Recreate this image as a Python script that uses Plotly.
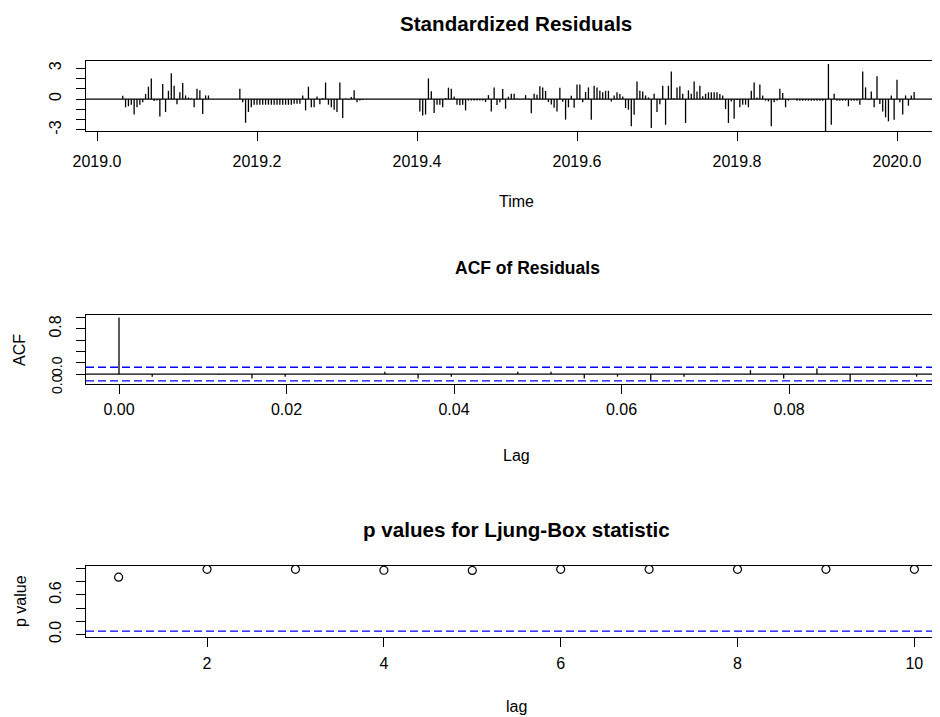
import plotly.graph_objects as go

# page offset of the figure inside the browser (default body margin)
OFF = 8
W, H = 940 - OFF, 717 - OFF

# ---------------- data ----------------
resid_freq = 280            # observations per year on the time axis
resid_year0 = 2019
seg_a_start = 9             # index (k) of first obs: t = 2019 + k/280
seg_a = [0.32, -0.8, -0.7, -0.55, -1.5, -0.8, -0.55, -0.3, 0.5, 1.2, 2.0, -0.2, -0.15, -1.7, 1.45,
         -1.25, 0.8, 2.5, 1.3, -0.5, 0.65, 1.55, 0.35, 0.15, 0.05, -0.8, 1.0, 0.85, -1.45, 0.35, 0.35]
seg_b_start = 50
seg_b = [1.0, -0.3, -2.3, -1.25, -0.8, -0.55,
         -0.55, -0.55, -0.55, -0.55, -0.55, -0.55, -0.55, -0.55, -0.55, -0.55, -0.55, -0.55, -0.55,
         -0.45, -0.45, -0.45,
         0.35, -1.1, 1.2, -0.8, -0.8, 0.25, -0.5, 0.1, 1.6, -0.55, -0.8, -1.05, -1.25, 1.6, -1.85,
         0.05, -0.05, 0.2, 0.85, -0.3, -0.15, -0.1]
seg_c_start = 113
seg_c = [-1.2, -1.6, -1.5, 2.0, 0.75, -1.35, -0.55, -0.55, -0.8, 0.1,
         1.1, 1.0, 0.25, -0.55, -0.6, -0.55, -1.1, -0.15, -0.15, -0.15,
         -0.15, -0.15, -0.15, -0.3, 0.38, -1.22, 1.12, -0.57, -0.32, 0.97,
         -0.94, 0.23, 0.52, 0.52, 0.05, -0.05, 0.02, 0.38, 0.05, -1.38,
         0.52, 0.42, 1.25, 1.12, 0.78, -0.3, -0.52, -0.85, -1.2, 1.1,
         -0.27, -2.0, -0.8, 0.33, -0.85, 1.42, 1.42, -0.3, 0.68, 1.13,
         -2.0, 1.3, 1.13, 0.8, 0.65, 0.8, 0.8, -0.23, 0.35, 0.65,
         0.5, 0.25, -0.87, -1.03, -2.65, -1.52, 1.7, 0.8, 0.74, 0.35,
         0.16, -2.8, 0.52, -1.26, -0.5, 1.29, -2.5, 1.29, 2.68, 0.1,
         1.13, 1.23, 0.52, -2.33, 0.84, 0.52, 1.71, 0.74, 1.29, 0.26,
         0.52, 0.65, 0.65, 0.65, 0.65, 0.48, 0.35, -0.97, -2.32, -0.23,
         -1.9, -0.1, -0.8, -0.55, -0.55, -0.8, 0.8, 1.6, 0.15, 1.4,
         0.35, -0.16, -0.23, -2.65, -0.32, -0.13, 1.0, 0.58, -0.8, -0.16,
         0.0, 0.0, -0.16, -0.16, -0.16, -0.16, -0.16, -0.16, -0.16, -0.16,
         -0.16, -0.16, -3.1, 3.4, -2.5, 0.52, -0.16, -0.16, -0.16, -0.16,
         -0.7, -0.16, -0.16, -0.16, -0.55, 2.68, 1.13, -0.1, 0.74, -0.8,
         2.2, -0.48, -1.2, -1.77, -2.16, 0.35, -2.0, 1.87, -0.32, -1.5,
         0.35, -0.65, 0.35, 0.68]

acf_freq = 252
acf_values = [1.0, -0.047, 0.005, -0.005, -0.076, -0.045, 0.005, -0.005, 0.04, -0.076,
              -0.045, 0.005, 0.04, 0.04, -0.076, -0.045, -0.106, -0.045, 0.005, 0.07,
              -0.076, 0.1, -0.135, 0.005, -0.045]
acf_ci = 0.12

lb_lags = [1, 2, 3, 4, 5, 6, 7, 8, 9, 10]
lb_pvalues = [0.87, 0.99, 0.99, 0.975, 0.972, 0.99, 0.99, 0.99, 0.99, 0.99]
lb_level = 0.05

time_ticks = [2019.0, 2019.2, 2019.4, 2019.6, 2019.8, 2020.0]
time_ticklabels = ["2019.0", "2019.2", "2019.4", "2019.6", "2019.8", "2020.0"]
acf_xticks = [0.0, 0.02, 0.04, 0.06, 0.08]
acf_xticklabels = ["0.00", "0.02", "0.04", "0.06", "0.08"]
lb_xticks = [2, 4, 6, 8, 10]

# ---------------- build ----------------
FONT = "Liberation Sans, Arial, sans-serif"
TICK_SIZE = 16
LAB_SIZE = 16
TITLE_SIZE = 20.6


def px_x(p):
    return (p - OFF) / W


def px_y(p):
    return 1 - (p - OFF) / H


fig = go.Figure()

# standardized residuals as vertical lines (type="h")
hx, hy = [], []
for start, seg in ((seg_a_start, seg_a), (seg_b_start, seg_b), (seg_c_start, seg_c)):
    for i, v in enumerate(seg):
        t = resid_year0 + (start + i) / resid_freq
        hx += [t, t, None]
        hy += [0, v, None]
fig.add_trace(go.Scatter(x=hx, y=hy, mode="lines", line=dict(color="black", width=1.3),
                         xaxis="x", yaxis="y", hoverinfo="skip"))

# ACF vertical lines
ax, ay = [], []
for k, v in enumerate(acf_values):
    lag = k / acf_freq
    ax += [lag, lag, None]
    ay += [0, v, None]
fig.add_trace(go.Scatter(x=ax, y=ay, mode="lines", line=dict(color="black", width=1.3),
                         xaxis="x2", yaxis="y2", hoverinfo="skip"))

# Ljung-Box p values
fig.add_trace(go.Scatter(x=lb_lags, y=lb_pvalues, mode="markers",
                         marker=dict(symbol="circle-open", size=8, color="black",
                                     line=dict(width=1.2, color="black")),
                         xaxis="x3", yaxis="y3"))

BLUE = "#0000ff"
shapes = [
    dict(type="line", xref="x domain", yref="y", x0=0, x1=1, y0=0, y1=0,
         line=dict(color="black", width=1.2)),
    dict(type="line", xref="x2 domain", yref="y2", x0=0, x1=1, y0=0, y1=0,
         line=dict(color="black", width=1.2)),
    dict(type="line", xref="x2 domain", yref="y2", x0=0, x1=1, y0=acf_ci, y1=acf_ci,
         line=dict(color=BLUE, width=1.4, dash="8px,4px")),
    dict(type="line", xref="x2 domain", yref="y2", x0=0, x1=1, y0=-acf_ci, y1=-acf_ci,
         line=dict(color=BLUE, width=1.4, dash="8px,4px")),
    dict(type="line", xref="x3 domain", yref="y3", x0=0, x1=1, y0=lb_level, y1=lb_level,
         line=dict(color=BLUE, width=1.4, dash="8px,4px")),
]

axis_common = dict(showgrid=False, zeroline=False, showline=True, linecolor="black",
                   linewidth=1.3, ticks="outside", ticklen=9, tickwidth=1.2, tickcolor="black",
                   automargin=False,
                   tickfont=dict(family=FONT, size=TICK_SIZE, color="black"))

x_dom = [px_x(86), 1.0]

layout = dict(
    width=W, height=H, paper_bgcolor="white", plot_bgcolor="white",
    margin=dict(l=0, r=0, t=0, b=0, pad=0), showlegend=False,
    xaxis=dict(domain=x_dom, anchor="y", range=[2018.98625, 2020.05375], mirror=True,
               tickvals=time_ticks, ticktext=time_ticklabels, ticklabelstandoff=7, **axis_common),
    yaxis=dict(domain=[px_y(131), px_y(61)], anchor="x", range=[-3.1, 3.69],
               tickvals=[-3, -2, -1, 0, 1, 2, 3], ticktext=["-3", "", "", "0", "", "", "3"],
               tickangle=-90, ticklabelstandoff=8, **axis_common),
    xaxis2=dict(domain=x_dom, anchor="y2", range=[-0.00394, 0.09803], mirror=True,
                tickvals=acf_xticks, ticktext=acf_xticklabels, ticklabelstandoff=2, **axis_common),
    yaxis2=dict(domain=[px_y(384), px_y(315)], anchor="x2", range=[-0.175, 1.045],
                tickvals=[0, 0.2, 0.4, 0.6, 0.8, 1.0], ticktext=["", "", "", "", "0.8", ""],
                tickangle=-90, ticklabelstandoff=8, **axis_common),
    xaxis3=dict(domain=x_dom, anchor="y3", range=[0.631, 10.29], mirror=True,
                tickvals=lb_xticks, ticktext=[str(v) for v in lb_xticks], ticklabelstandoff=3,
                **axis_common),
    yaxis3=dict(domain=[px_y(637), px_y(566)], anchor="x3", range=[-0.04, 1.04],
                tickvals=[0, 0.2, 0.4, 0.6, 0.8, 1.0], ticktext=["0.0", "", "", "0.6", "", ""],
                tickangle=-90, ticklabelstandoff=8, **axis_common),
    shapes=shapes,
)


def ann(text, x, y, size=LAB_SIZE, angle=0, bold=False):
    return dict(text=f"<b>{text}</b>" if bold else text, xref="paper", yref="paper",
                x=px_x(x), y=px_y(y), xanchor="center", yanchor="middle", showarrow=False,
                textangle=angle, font=dict(family=FONT, size=size, color="black"))


layout["annotations"] = [
    ann("Standardized Residuals", 516, 24, TITLE_SIZE, bold=True),
    ann("Time", 516, 201),
    ann("ACF of Residuals", 527, 268, 17.5, bold=True),
    ann("Lag", 516, 455),
    ann("ACF", 19, 350, angle=-90),
    ann("0.0", 57, 366, size=14, angle=-90),
    ann("0.0", 57, 384, size=14, angle=-90),
    ann("p values for Ljung-Box statistic", 516, 529, TITLE_SIZE, bold=True),
    ann("lag", 516, 706),
    ann("p value", 20, 601, angle=-90),
]

fig.update_layout(**layout)
fig.write_html("out.html")
